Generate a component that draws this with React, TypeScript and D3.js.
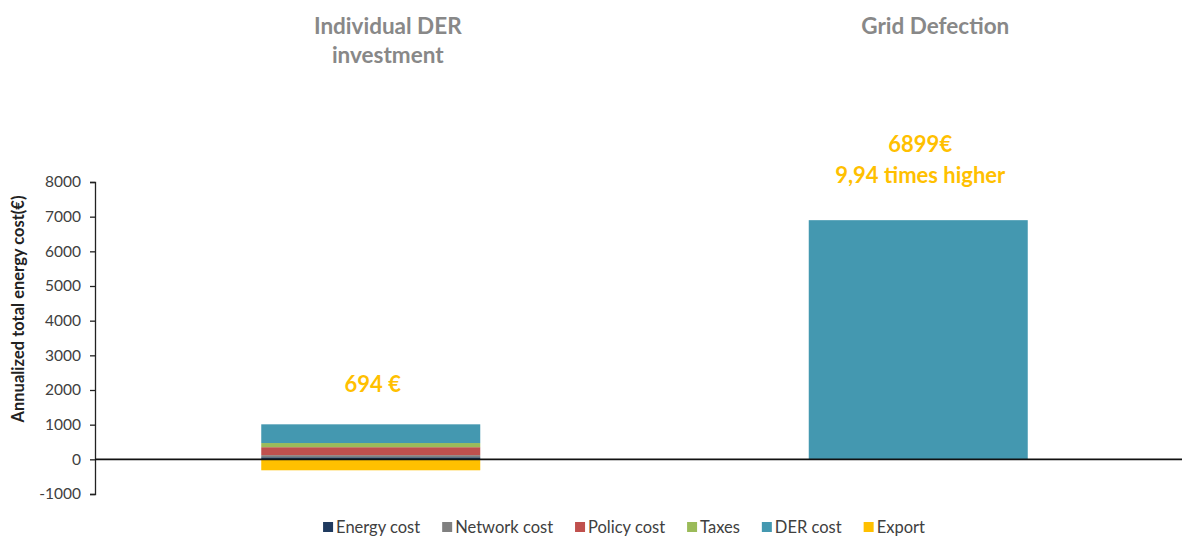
import React, { useEffect, useRef } from "react";
import * as d3 from "d3";

const categories = ["Individual DER investment", "Grid Defection"];
const titleLines = [["Individual DER", "investment"], ["Grid Defection"]];
const seriesNames = ["Energy cost", "Network cost", "Policy cost", "Taxes", "DER cost", "Export"];
const energyCost = [60, 0];
const networkCost = [60, 0];
const policyCost = [230, 0];
const taxes = [120, 0];
const derCost = [540, 6899];
const exportVals = [-316, 0];
const yTicks = [-1000, 0, 1000, 2000, 3000, 4000, 5000, 6000, 7000, 8000];
const annotations = [["694 €"], ["6899€", "9,94 times higher"]];
const colors = ["#1F3A5F", "#808080", "#C0504D", "#9BBB59", "#4498B0", "#FFC000"];

const W = 1182;
const H = 538;
const FONT = "Lato, 'Open Sans', sans-serif";

export default function App() {
  const ref = useRef<SVGSVGElement | null>(null);
  useEffect(() => {
    const svg = d3.select(ref.current);
    svg.selectAll("*").remove();
    const x = d3.scaleBand<string>().domain(categories).range([97, 1192]).paddingInner(0.6).paddingOuter(0.3);
    const y = d3.scaleLinear().domain([-1000, 8000]).range([494, 182]);
    const series = [energyCost, networkCost, policyCost, taxes, derCost, exportVals];

    // bars
    categories.forEach((c, i) => {
      let pos = 0;
      let neg = 0;
      series.forEach((s, k) => {
        const v = s[i];
        if (v === 0) return;
        let y0, y1;
        if (v > 0) { y0 = pos; y1 = pos + v; pos = y1; } else { y0 = neg + v; y1 = neg; neg = y0; }
        svg.append("rect")
          .attr("x", x(c)!)
          .attr("width", x.bandwidth())
          .attr("y", y(y1))
          .attr("height", y(y0) - y(y1))
          .attr("fill", colors[k]);
      });
    });

    // y axis
    const axis = d3.axisLeft(y).tickValues(yTicks).tickSize(5).tickFormat((d) => String(d));
    const g = svg.append("g").attr("transform", "translate(95,0)").call(axis);
    g.select(".domain").attr("stroke", "#222").attr("stroke-width", 1.3);
    g.selectAll(".tick line").attr("stroke", "#222").attr("stroke-width", 1.3);
    g.selectAll(".tick text").attr("font-family", FONT).attr("font-size", 15.5).attr("fill", "#404040").attr("x", -14);

    // zero line
    svg.append("line").attr("x1", 95).attr("x2", W).attr("y1", y(0)).attr("y2", y(0)).attr("stroke", "#111").attr("stroke-width", 1.6);

    // y title
    svg.append("text")
      .attr("transform", `translate(24,${309}) rotate(-90)`)
      .attr("text-anchor", "middle")
      .attr("font-family", FONT).attr("font-weight", "bold").attr("font-size", 16.5).attr("fill", "#222")
      .text("Annualized total energy cost(€)");

    // category titles
    categories.forEach((c, i) => {
      const cx = x(c)! + x.bandwidth() / 2 + 17;
      titleLines[i].forEach((t, j) => {
        svg.append("text").attr("x", cx).attr("y", 34 + j * 29).attr("text-anchor", "middle")
          .attr("font-family", FONT).attr("font-weight", "bold").attr("font-size", 22.5).attr("fill", "#888")
          .text(t);
      });
    });

    // annotations
    const annY = [[392], [152, 183]];
    categories.forEach((c, i) => {
      const cx = x(c)! + x.bandwidth() / 2 + 2;
      annotations[i].forEach((t, j) => {
        svg.append("text").attr("x", cx).attr("y", annY[i][j]).attr("text-anchor", "middle")
          .attr("font-family", FONT).attr("font-weight", "bold").attr("font-size", 22).attr("fill", "#FFC000")
          .text(t);
      });
    });

    // legend
    const lg = svg.append("g");
    let lx = 0;
    seriesNames.forEach((n, k) => {
      lg.append("rect").attr("x", lx).attr("y", 522).attr("width", 10).attr("height", 10).attr("fill", colors[k]);
      const t = lg.append("text").attr("x", lx + 13).attr("y", 533)
        .attr("font-family", FONT).attr("font-size", 16.5).attr("fill", "#404040").text(n);
      const w = (t.node() as SVGTextElement).getComputedTextLength();
      lx += 13 + w + 22;
    });
    const total = lx - 22;
    lg.attr("transform", `translate(${624 - total / 2},0)`);
  }, []);
  return (
    <svg ref={ref} width={W} height={H} style={{ position: "absolute", left: 0, top: 0, background: "#fff" }} />
  );
}
